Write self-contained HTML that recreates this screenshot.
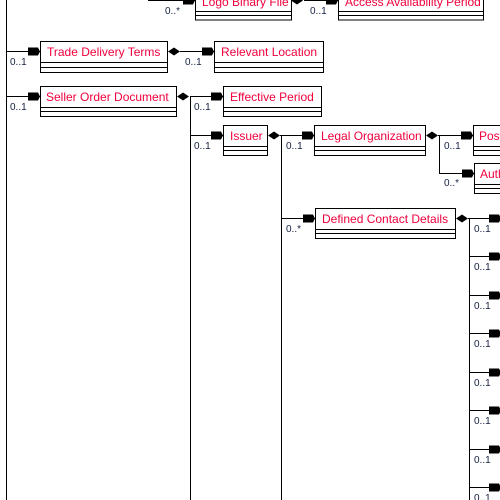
<!DOCTYPE html>
<html><head><meta charset="utf-8"><style>
html,body{margin:0;padding:0;background:#fff;}
svg{display:block}
.t{font-family:"Liberation Sans",sans-serif;font-size:12px;fill:#f0003c}
.m{font-family:"Liberation Sans",sans-serif;font-size:10px;fill:#142040}
</style></head><body>
<svg width="500" height="500" viewBox="0 0 500 500" xmlns="http://www.w3.org/2000/svg">
<defs>
<path id="ar" d="M0,-4 L10,-4 L12,0 L10,4 L0,4 Z" fill="#000"/>
<path id="dm" d="M0,0 L6,-4 L12,0 L6,4 Z" fill="#000"/>
</defs>
<g stroke="#000" stroke-width="1" fill="#fff" shape-rendering="crispEdges">
<line x1="6.5" y1="0" x2="6.5" y2="500"/>
<line x1="148" y1="0.5" x2="195" y2="0.5"/>
<rect x="195.5" y="-12" width="96" height="32"/>
<line x1="195" y1="11.5" x2="292" y2="11.5"/><line x1="195" y1="15.5" x2="292" y2="15.5"/>
<line x1="304" y1="0.5" x2="338" y2="0.5"/>
<rect x="338.5" y="-12" width="145" height="32"/>
<line x1="338" y1="11.5" x2="484" y2="11.5"/><line x1="338" y1="15.5" x2="484" y2="15.5"/>
<line x1="6" y1="51.5" x2="40" y2="51.5"/>
<rect x="40.5" y="41.5" width="127" height="31"/>
<line x1="40" y1="62.5" x2="168" y2="62.5"/><line x1="40" y1="67.5" x2="168" y2="67.5"/>
<line x1="180" y1="51.5" x2="214" y2="51.5"/>
<rect x="214.5" y="41.5" width="109" height="31"/>
<line x1="214" y1="62.5" x2="324" y2="62.5"/><line x1="214" y1="67.5" x2="324" y2="67.5"/>
<line x1="6" y1="96.5" x2="40" y2="96.5"/>
<rect x="40.5" y="86.5" width="136" height="30"/>
<line x1="40" y1="107.5" x2="177" y2="107.5"/><line x1="40" y1="111.5" x2="177" y2="111.5"/>
<line x1="190" y1="96.5" x2="223" y2="96.5"/>
<line x1="190.5" y1="96" x2="190.5" y2="500"/>
<rect x="223.5" y="86.5" width="98" height="30"/>
<line x1="223" y1="107.5" x2="322" y2="107.5"/><line x1="223" y1="111.5" x2="322" y2="111.5"/>
<line x1="190" y1="135.5" x2="223" y2="135.5"/>
<rect x="223.5" y="125.5" width="44" height="30"/>
<line x1="223" y1="146.5" x2="268" y2="146.5"/><line x1="223" y1="150.5" x2="268" y2="150.5"/>
<line x1="280" y1="135.5" x2="314" y2="135.5"/>
<line x1="281.5" y1="135" x2="281.5" y2="500"/>
<rect x="314.5" y="125.5" width="111" height="30"/>
<line x1="314" y1="146.5" x2="426" y2="146.5"/><line x1="314" y1="150.5" x2="426" y2="150.5"/>
<line x1="438" y1="135.5" x2="473" y2="135.5"/>
<line x1="439.5" y1="135" x2="439.5" y2="173"/>
<rect x="473.5" y="125.5" width="40" height="30"/>
<line x1="473" y1="146.5" x2="500" y2="146.5"/><line x1="473" y1="150.5" x2="500" y2="150.5"/>
<line x1="439" y1="173.5" x2="474" y2="173.5"/>
<rect x="474.5" y="163.5" width="40" height="30"/>
<line x1="474" y1="184.5" x2="500" y2="184.5"/><line x1="474" y1="188.5" x2="500" y2="188.5"/>
<line x1="281" y1="218.5" x2="315" y2="218.5"/>
<rect x="315.5" y="208.5" width="140" height="30"/>
<line x1="315" y1="229.5" x2="456" y2="229.5"/><line x1="315" y1="233.5" x2="456" y2="233.5"/>
<line x1="468" y1="218.5" x2="500" y2="218.5"/>
<line x1="469.5" y1="218" x2="469.5" y2="500"/>
<line x1="469" y1="256.5" x2="500" y2="256.5"/>
<line x1="469" y1="295.5" x2="500" y2="295.5"/>
<line x1="469" y1="333.5" x2="500" y2="333.5"/>
<line x1="469" y1="372.5" x2="500" y2="372.5"/>
<line x1="469" y1="410.5" x2="500" y2="410.5"/>
<line x1="469" y1="449.5" x2="500" y2="449.5"/>
<line x1="469" y1="487.5" x2="500" y2="487.5"/>
</g>
<use href="#ar" x="183" y="0.5"/><use href="#ar" x="326" y="0.5"/>
<use href="#ar" x="28" y="51.5"/><use href="#ar" x="202" y="51.5"/>
<use href="#ar" x="28" y="96.5"/><use href="#ar" x="211" y="96.5"/>
<use href="#ar" x="211" y="135.5"/><use href="#ar" x="302" y="135.5"/>
<use href="#ar" x="461" y="135.5"/><use href="#ar" x="462" y="173.5"/>
<use href="#ar" x="303" y="218.5"/>
<use href="#ar" x="489" y="218.5"/><use href="#ar" x="489" y="256.5"/><use href="#ar" x="489" y="295.5"/><use href="#ar" x="489" y="333.5"/>
<use href="#ar" x="489" y="372.5"/><use href="#ar" x="489" y="410.5"/><use href="#ar" x="489" y="449.5"/><use href="#ar" x="489" y="487.5"/>
<use href="#dm" x="291" y="0.5"/>
<use href="#dm" x="168" y="51.5"/>
<use href="#dm" x="177" y="96.5"/>
<use href="#dm" x="268" y="135.5"/>
<use href="#dm" x="426" y="135.5"/>
<use href="#dm" x="456" y="218.5"/>
<text class="t" x="202" y="6">Logo Binary File</text>
<text class="t" x="345" y="6">Access Availability Period</text>
<text class="t" x="47" y="56">Trade Delivery Terms</text>
<text class="t" x="221" y="56">Relevant Location</text>
<text class="t" x="46" y="101">Seller Order Document</text>
<text class="t" x="230" y="101">Effective Period</text>
<text class="t" x="230" y="140">Issuer</text>
<text class="t" x="321" y="140">Legal Organization</text>
<text class="t" x="479" y="140">Post</text>
<text class="t" x="480" y="178">Authority</text>
<text class="t" x="322" y="223">Defined Contact Details</text>
<text class="m" x="165" y="14">0..*</text>
<text class="m" x="310" y="14">0..1</text>
<text class="m" x="10" y="65">0..1</text>
<text class="m" x="185" y="65">0..1</text>
<text class="m" x="10" y="110">0..1</text>
<text class="m" x="194" y="110">0..1</text>
<text class="m" x="194" y="149">0..1</text>
<text class="m" x="286" y="149">0..1</text>
<text class="m" x="444" y="149">0..1</text>
<text class="m" x="444" y="186">0..*</text>
<text class="m" x="286" y="232">0..*</text>
<text class="m" x="474" y="232">0..1</text>
<text class="m" x="474" y="270">0..1</text>
<text class="m" x="474" y="309">0..1</text>
<text class="m" x="474" y="347">0..1</text>
<text class="m" x="474" y="386">0..1</text>
<text class="m" x="474" y="424">0..1</text>
<text class="m" x="474" y="463">0..1</text>
<text class="m" x="474" y="501">0..1</text>
</svg>
</body></html>
